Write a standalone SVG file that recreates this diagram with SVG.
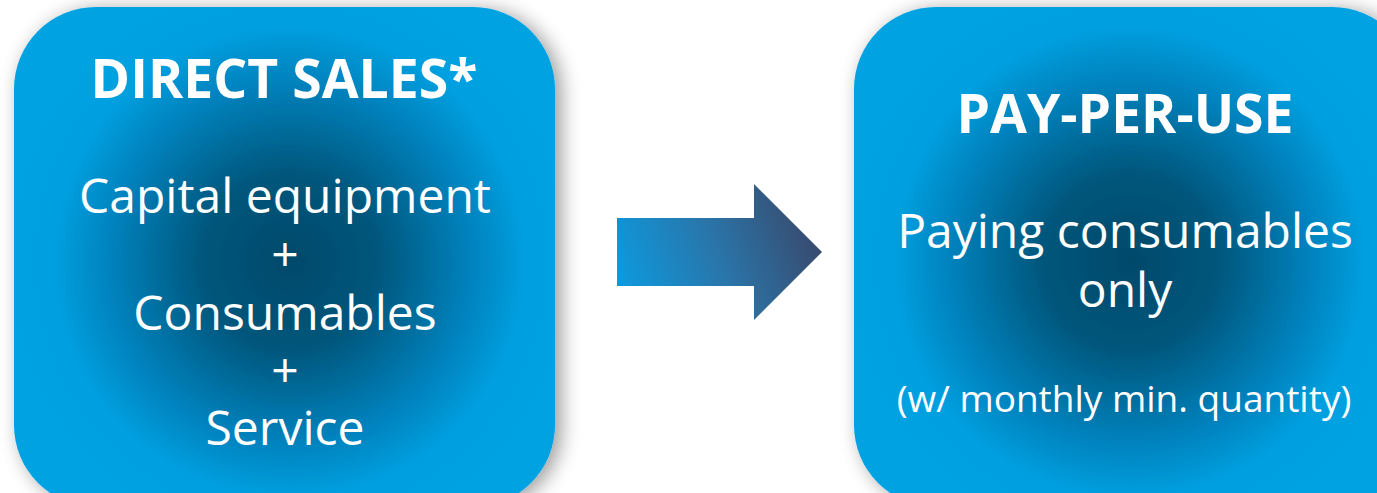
<svg xmlns="http://www.w3.org/2000/svg" width="1377" height="493" viewBox="0 0 1377 493">
<style>
.t{font-family:"Open Sans","Liberation Sans",sans-serif;fill:#ffffff;text-anchor:middle}
.h{font-weight:700;font-size:53.5px}
.r{font-size:48px}
.s{font-size:37px}
</style>
<defs>
<filter id="sh" x="-20%" y="-20%" width="140%" height="140%">
<feGaussianBlur in="SourceAlpha" stdDeviation="10"/>
<feOffset dx="6" dy="3" result="b"/>
<feComponentTransfer><feFuncA type="linear" slope="0.4"/></feComponentTransfer>
<feMerge><feMergeNode/><feMergeNode in="SourceGraphic"/></feMerge>
</filter>
<radialGradient id="g1" gradientUnits="userSpaceOnUse" cx="290" cy="262" r="290">
<stop offset="0" stop-color="#024a6b"/>
<stop offset="0.3" stop-color="#03567b"/>
<stop offset="0.62" stop-color="#0182bd"/>
<stop offset="0.82" stop-color="#00a0e0"/>
<stop offset="1" stop-color="#00a2e2"/>
</radialGradient>
<radialGradient id="g2" gradientUnits="userSpaceOnUse" cx="1130" cy="262" r="290">
<stop offset="0" stop-color="#024a6b"/>
<stop offset="0.3" stop-color="#03567b"/>
<stop offset="0.62" stop-color="#0182bd"/>
<stop offset="0.82" stop-color="#00a0e0"/>
<stop offset="1" stop-color="#00a2e2"/>
</radialGradient>
<linearGradient id="ga" gradientUnits="userSpaceOnUse" x1="617" y1="290" x2="822" y2="215">
<stop offset="0" stop-color="#0c9be0"/>
<stop offset="0.5" stop-color="#2a74a8"/>
<stop offset="1" stop-color="#3a4566"/>
</linearGradient>
</defs>
<rect width="1377" height="493" fill="#ffffff"/>
<g id="direct-sales">
<rect x="14" y="7" width="541" height="500" rx="82" ry="82" fill="url(#g1)" filter="url(#sh)"/>
<text class="t h" x="284" y="98">DIRECT SALES*</text>
<text class="t r"><tspan x="285" y="213">Capital equipment</tspan><tspan x="285" y="271">+</tspan><tspan x="285" y="330">Consumables</tspan><tspan x="285" y="387">+</tspan><tspan x="285" y="445">Service</tspan></text>
</g>
<g id="pay-per-use">
<rect x="854" y="7" width="560" height="500" rx="82" ry="82" fill="url(#g2)" filter="url(#sh)"/>
<text class="t h" x="1125" y="133">PAY-PER-USE</text>
<text class="t r"><tspan x="1125" y="248">Paying consumables</tspan><tspan x="1125" y="307">only</tspan></text>
<text class="t s" x="1124" y="412">(w/ monthly min. quantity)</text>
</g>
<g id="connectors">
<polygon points="617,218 754,218 754,184 822,252 754,320 754,286 617,286" fill="url(#ga)"/>
</g>
</svg>
